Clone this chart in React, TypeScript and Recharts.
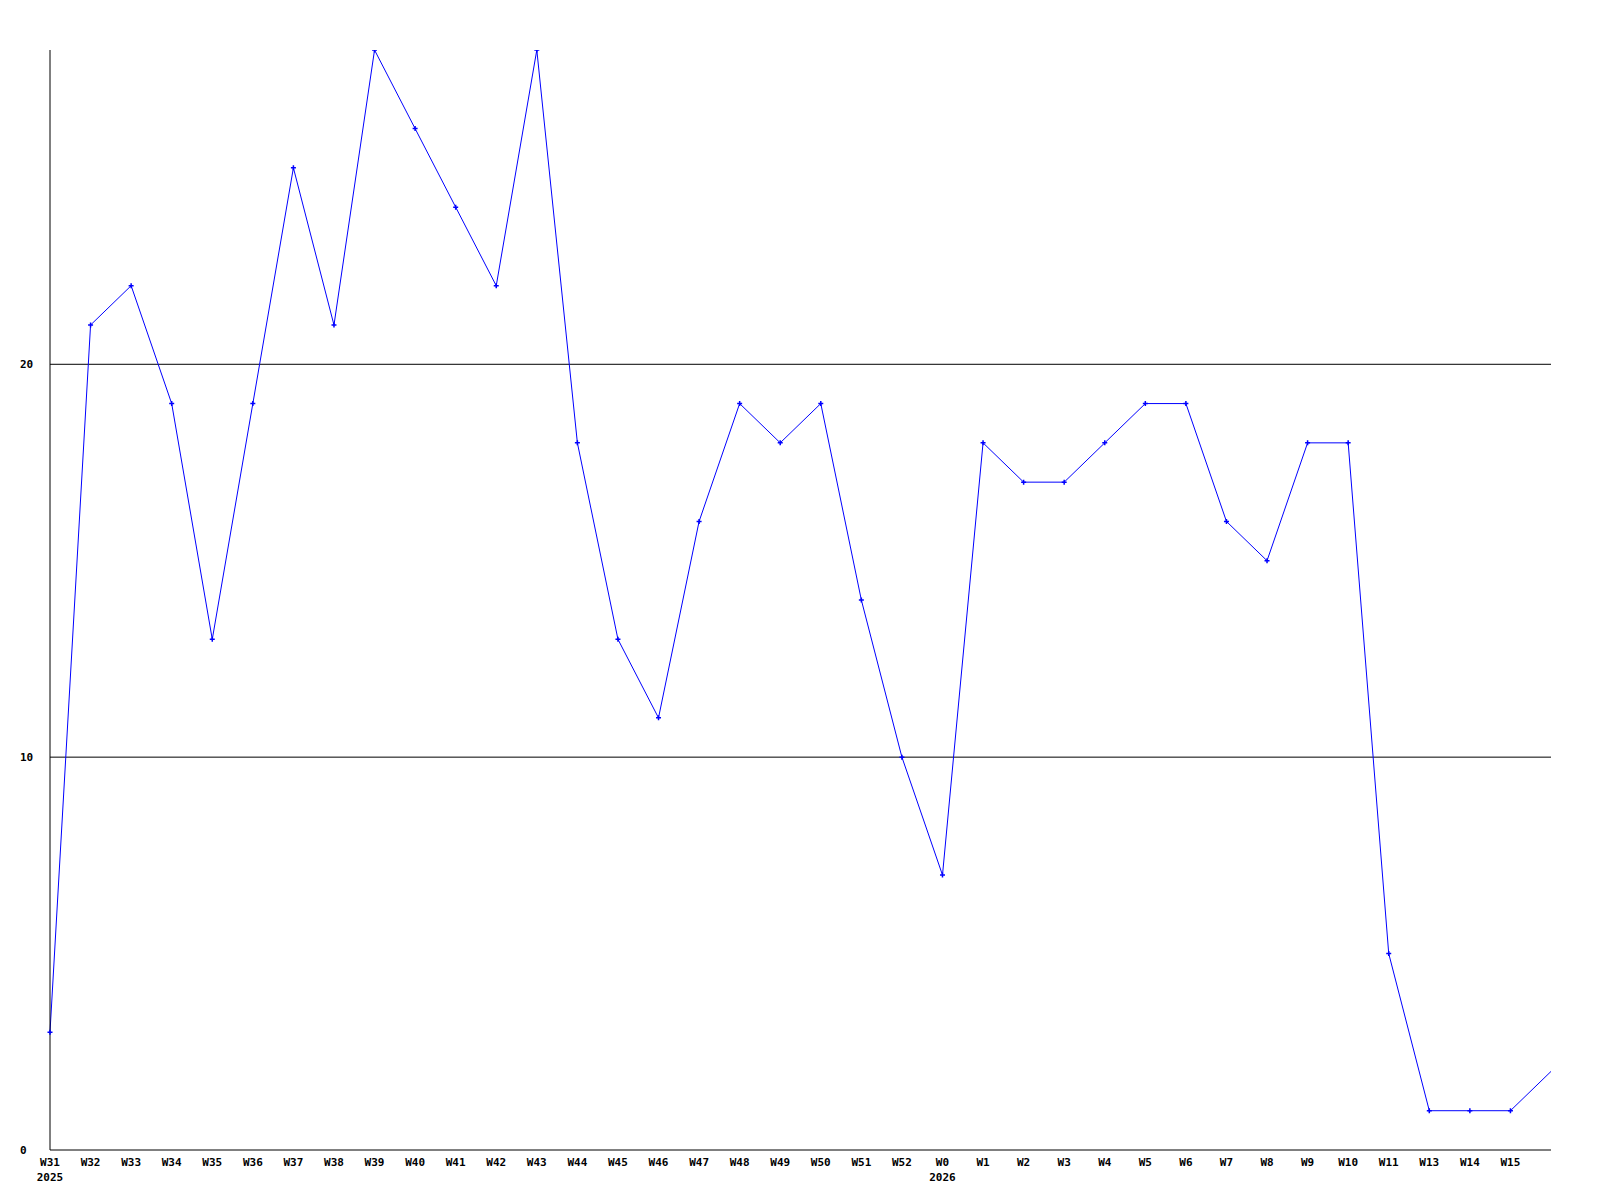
import React from 'react';
import { LineChart, Line, XAxis, YAxis, CartesianGrid } from 'recharts';

// week labels along the bottom (W12 is missing in the source, last point has no label)
const weeks = [
  'W31', 'W32', 'W33', 'W34', 'W35', 'W36', 'W37', 'W38', 'W39', 'W40', 'W41', 'W42', 'W43',
  'W44', 'W45', 'W46', 'W47', 'W48', 'W49', 'W50', 'W51', 'W52',
  'W0', 'W1', 'W2', 'W3', 'W4', 'W5', 'W6', 'W7', 'W8', 'W9', 'W10', 'W11', 'W13', 'W14', 'W15', '',
];

const counts = [
  3, 21, 22, 19, 13, 19, 25, 21, 28, 26, 24, 22, 28,
  18, 13, 11, 16, 19, 18, 19, 14, 10,
  7, 18, 17, 17, 18, 19, 19, 16, 15, 18, 18, 5, 1, 1, 1, 2,
];

// year shown under the first week of each year
const years: Record<string, string> = { W31: '2025', W0: '2026' };

const yTicks = [0, 10, 20];

const WIDTH = 1600;
const HEIGHT = 1200;
const FONT = '"DejaVu Sans Mono", monospace';

const chartData = weeks.map((w, i) => ({ key: `${i}`, week: w, value: counts[i] }));

const WeekTick = (props: any) => {
  const { x, payload } = props;
  const label = weeks[payload.index] ?? '';
  const year = years[label];
  return (
    <g>
      <text x={x} y={1166} textAnchor="middle" fontFamily={FONT} fontWeight="bold" fontSize={11} fill="#000">
        {label}
      </text>
      {year && (
        <text x={x} y={1181} textAnchor="middle" fontFamily={FONT} fontWeight="bold" fontSize={11} fill="#000">
          {year}
        </text>
      )}
    </g>
  );
};

const ValueTick = (props: any) => {
  const { y, payload } = props;
  return (
    <text x={20} y={y + 4} textAnchor="start" fontFamily={FONT} fontWeight="bold" fontSize={11} fill="#000">
      {payload.value}
    </text>
  );
};

// small "+" marker, skipped on the last point (it sits on the plot edge)
const Marker = (props: any) => {
  const { cx, cy, index } = props;
  if (index === chartData.length - 1 || cx == null) return <g key={`d-${index}`} />;
  return (
    <path
      key={`d-${index}`}
      d={`M${cx - 2.5},${cy}H${cx + 2.5}M${cx},${cy - 2.5}V${cy + 2.5}`}
      stroke="#0000ff"
      strokeWidth={1.5}
      fill="none"
    />
  );
};

export default function App() {
  return (
    <div style={{ position: 'absolute', left: 0, top: 0, width: WIDTH, height: HEIGHT, background: '#fff' }}>
      <LineChart width={WIDTH} height={HEIGHT} data={chartData} margin={{ top: 50, right: 49, bottom: 0, left: 0 }}>
        <CartesianGrid horizontal vertical={false} stroke="#000" horizontalValues={[10, 20]} />
        <XAxis
          dataKey="key"
          height={50}
          interval={0}
          tickLine={false}
          axisLine={{ stroke: '#000' }}
          tick={<WeekTick />}
        />
        <YAxis
          width={50}
          domain={[0, 28]}
          ticks={yTicks}
          tickLine={false}
          axisLine={{ stroke: '#000' }}
          tick={<ValueTick />}
          allowDataOverflow
        />
        <Line
          type="linear"
          dataKey="value"
          stroke="#0000ff"
          strokeWidth={1}
          dot={<Marker />}
          activeDot={false}
          isAnimationActive={false}
        />
      </LineChart>
    </div>
  );
}
